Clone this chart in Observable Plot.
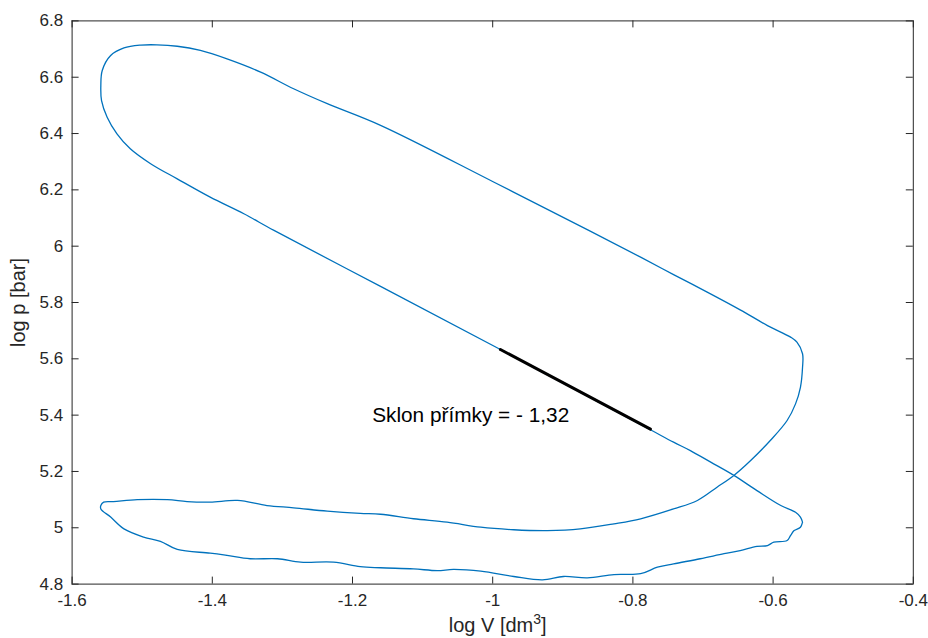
<!DOCTYPE html>
<html>
<head>
<meta charset="utf-8">
<script src="https://cdn.jsdelivr.net/npm/d3@7"></script>
<script src="https://cdn.jsdelivr.net/npm/@observablehq/plot@0.6"></script>
<style>
  html, body { margin: 0; padding: 0; background: #fff; }
  svg { display: block; }
</style>
</head>
<body>
<div id="chart"></div>
<script>
// Indicator diagram of one engine cycle in log-log coordinates (log V vs log p).
// Path order: compression -> combustion loop -> expansion -> blow-down -> exhaust -> intake.
const logV = [
  -0.558, -0.561, -0.568, -0.589, -0.623, -0.656, -0.689, -0.718, -0.742, -0.775,
  -0.989, -1.160, -1.312, -1.355, -1.403, -1.450, -1.488, -1.517, -1.536, -1.550,
  -1.558, -1.559, -1.557, -1.545, -1.526, -1.502, -1.479, -1.450, -1.417, -1.379,
  -1.331, -1.284, -1.236, -1.160, -0.998, -0.863, -0.789, -0.742, -0.694, -0.647,
  -0.608, -0.575, -0.566, -0.558, -0.558, -0.561, -0.568, -0.580, -0.604, -0.632,
  -0.656, -0.680, -0.708, -0.742, -0.789, -0.827, -0.875, -0.922, -0.970, -1.017,
  -1.065, -1.113, -1.160, -1.189, -1.236, -1.284, -1.322, -1.364, -1.403, -1.436,
  -1.464, -1.507, -1.541, -1.555, -1.559, -1.559, -1.545, -1.526, -1.498, -1.474,
  -1.450, -1.403, -1.379, -1.346, -1.307, -1.274, -1.227, -1.189, -1.160, -1.113,
  -1.079, -1.056, -1.017, -0.970, -0.929, -0.899, -0.865, -0.827, -0.789, -0.765,
  -0.742, -0.704, -0.670, -0.647, -0.623, -0.608, -0.599, -0.580, -0.575, -0.570,
  -0.561, -0.558
];
const logP = [
  5.020, 5.038, 5.055, 5.079, 5.132, 5.186, 5.233, 5.274, 5.304, 5.348,
  5.633, 5.857, 6.056, 6.115, 6.174, 6.239, 6.293, 6.346, 6.399, 6.458,
  6.517, 6.571, 6.624, 6.677, 6.704, 6.714, 6.715, 6.710, 6.695, 6.665,
  6.618, 6.559, 6.506, 6.429, 6.227, 6.056, 5.961, 5.899, 5.837, 5.774,
  5.718, 5.677, 5.659, 5.618, 5.570, 5.499, 5.440, 5.381, 5.310, 5.239,
  5.186, 5.144, 5.097, 5.067, 5.032, 5.014, 4.996, 4.990, 4.993, 5.002,
  5.020, 5.032, 5.048, 5.051, 5.059, 5.071, 5.079, 5.097, 5.091, 5.093,
  5.100, 5.100, 5.093, 5.091, 5.079, 5.067, 5.038, 4.996, 4.967, 4.952,
  4.923, 4.910, 4.902, 4.890, 4.890, 4.878, 4.878, 4.862, 4.858, 4.854,
  4.848, 4.852, 4.846, 4.827, 4.815, 4.827, 4.822, 4.834, 4.837, 4.860,
  4.872, 4.890, 4.908, 4.919, 4.934, 4.937, 4.949, 4.955, 4.973, 4.990,
  5.002, 5.020
];

// Straight fit of the compression line
const fitSlope = -1.32;
const fitV = [-0.989, -0.775];
const fitP0 = 5.633;
const fitNote = "Sklon přímky = - 1,32";
const notePos = { v: -1.172, p: 5.40 };

// Axes
const xTicks = [-1.6, -1.4, -1.2, -1, -0.8, -0.6, -0.4];
const yTicks = [4.8, 5, 5.2, 5.4, 5.6, 5.8, 6, 6.2, 6.4, 6.6, 6.8];
const xLabel = "log V [dm3]";
const yLabel = "log p [bar]";

const cycle = logV.map((v, i) => ({ v, p: logP[i] }));
const fit = fitV.map(v => ({ v, p: fitP0 + fitSlope * (v - fitV[0]) }));

const W = 928, H = 638;
const mL = 71.6, mR = 15.2, mT = 20.4, mB = 54.4;
const plotW = W - mL - mR, plotH = H - mT - mB;
const ink = "#262626";
const tickLen = 7;

const chart = Plot.plot({
  width: W,
  height: H,
  marginLeft: mL,
  marginRight: mR,
  marginTop: mT,
  marginBottom: mB,
  style: { fontFamily: "'Liberation Sans', Arial, Helvetica, sans-serif", fontSize: "17px", color: ink, background: "#fff" },
  x: { domain: [-1.6, -0.4] },
  y: { domain: [4.8, 6.8] },
  marks: [
    Plot.line(cycle, { x: "v", y: "p", stroke: "#0072BD", strokeWidth: 1.3, curve: "catmull-rom" }),
    Plot.line(fit, { x: "v", y: "p", stroke: "#000", strokeWidth: 3 }),
    Plot.text([fitNote], { x: () => notePos.v, y: () => notePos.p, text: d => d, textAnchor: "start", lineAnchor: "middle", fontSize: 20.8, fill: "#000" }),
    Plot.frame({ stroke: ink, strokeWidth: 1 }),
    // inward ticks on all four sides of the box
    Plot.tickX(xTicks, { x: d => d, insetTop: plotH - tickLen, stroke: ink }),
    Plot.tickX(xTicks, { x: d => d, insetBottom: plotH - tickLen, stroke: ink }),
    Plot.tickY(yTicks, { y: d => d, insetRight: plotW - tickLen, stroke: ink }),
    Plot.tickY(yTicks, { y: d => d, insetLeft: plotW - tickLen, stroke: ink }),
    Plot.axisX(xTicks, { tickSize: 0, tickPadding: 10, tickFormat: d => String(d), label: null, fontSize: 17, fill: ink }),
    Plot.axisY(yTicks, { tickSize: 0, tickPadding: 9, tickFormat: d => String(d), label: null, fontSize: 17, fill: ink }),
    Plot.text([xLabel], { frameAnchor: "bottom", lineAnchor: "bottom", textAnchor: "middle", dy: 47.6, dx: 5, text: d => d, fontSize: 20, fill: ink }),
    Plot.text([yLabel], { frameAnchor: "left", rotate: -90, lineAnchor: "middle", textAnchor: "middle", dx: -(mL - 18), text: d => d, fontSize: 20, fill: ink })
  ]
});

// Superscript exponent in the volume unit
d3.select(chart).selectAll("text").filter(function () { return this.textContent === xLabel; })
  .each(function () {
    const t = d3.select(this);
    t.text(null);
    t.append("tspan").text("log V [dm");
    t.append("tspan").attr("font-size", 14).attr("dy", -8).text("3");
    t.append("tspan").attr("dy", 8).text("]");
  });

document.getElementById("chart").append(chart);
</script>
</body>
</html>
